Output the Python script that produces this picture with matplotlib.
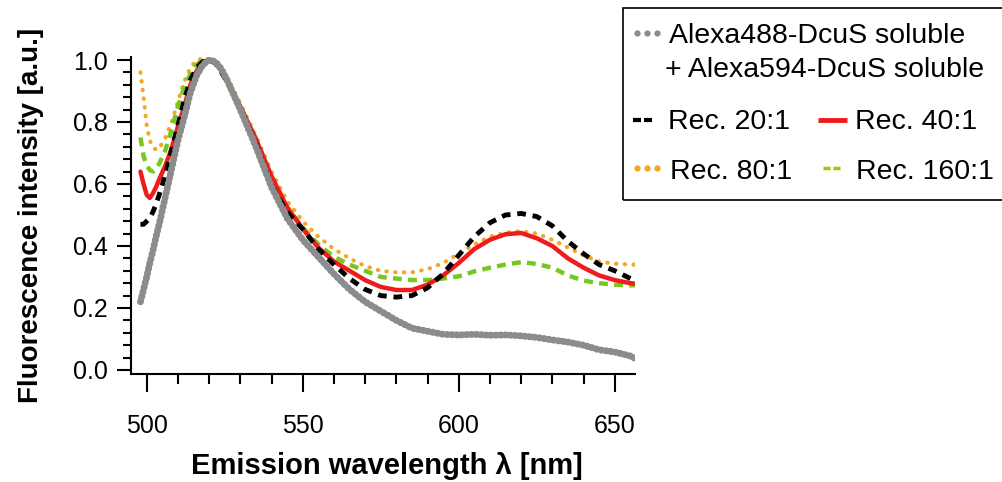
import matplotlib
matplotlib.use("Agg")
import matplotlib.pyplot as plt
from matplotlib.lines import Line2D
from matplotlib.patches import Rectangle
from matplotlib.ticker import MultipleLocator

plt.rcParams['font.family'] = ['Liberation Sans', 'DejaVu Sans']

# emission wavelength grid (nm)
wavelength = [498, 499, 500, 501, 502, 503, 504, 506, 508, 510, 512, 514, 516, 518,
              520, 522, 524, 526, 528, 530, 535, 540, 545, 550, 555, 560, 565, 570,
              575, 580, 585, 590, 595, 600, 605, 610, 615, 620, 625, 630, 635, 640,
              645, 650, 655, 657]

# normalised fluorescence intensity [a.u.]
soluble = [0.22, 0.26, 0.30, 0.345, 0.385, 0.43, 0.47, 0.56, 0.65, 0.74, 0.815, 0.895,
           0.95, 0.985, 1.0, 0.995, 0.97, 0.93, 0.885, 0.84, 0.72, 0.59, 0.49, 0.42,
           0.365, 0.31, 0.26, 0.22, 0.19, 0.16, 0.135, 0.125, 0.115, 0.113, 0.115,
           0.112, 0.113, 0.11, 0.105, 0.097, 0.09, 0.08, 0.065, 0.058, 0.045, 0.035]
rec_20 = [0.47, 0.47, 0.48, 0.49, 0.51, 0.535, 0.565, 0.63, 0.71, 0.79, 0.87, 0.935,
          0.975, 0.995, 1.0, 0.99, 0.96, 0.925, 0.885, 0.845, 0.73, 0.595, 0.51, 0.455,
          0.39, 0.34, 0.295, 0.26, 0.24, 0.235, 0.24, 0.265, 0.31, 0.37, 0.43, 0.475,
          0.5, 0.505, 0.495, 0.465, 0.415, 0.375, 0.34, 0.32, 0.295, 0.285]
rec_40 = [0.64, 0.6, 0.565, 0.555, 0.57, 0.59, 0.615, 0.66, 0.715, 0.785, 0.85, 0.92,
          0.965, 0.995, 1.0, 0.99, 0.965, 0.93, 0.89, 0.85, 0.745, 0.625, 0.525, 0.455,
          0.395, 0.35, 0.32, 0.29, 0.268, 0.258, 0.258, 0.275, 0.305, 0.345, 0.39, 0.42,
          0.438, 0.442, 0.425, 0.4, 0.36, 0.33, 0.305, 0.29, 0.28, 0.278]
rec_80 = [0.96, 0.88, 0.79, 0.74, 0.72, 0.71, 0.715, 0.75, 0.8, 0.865, 0.93, 0.975,
          1.0, 1.005, 1.0, 0.99, 0.97, 0.94, 0.9, 0.86, 0.755, 0.64, 0.545, 0.48,
          0.43, 0.39, 0.36, 0.335, 0.32, 0.315, 0.315, 0.325, 0.345, 0.375, 0.405, 0.43,
          0.443, 0.448, 0.44, 0.42, 0.395, 0.37, 0.35, 0.343, 0.34, 0.34]
rec_160 = [0.75, 0.69, 0.66, 0.645, 0.64, 0.65, 0.665, 0.71, 0.775, 0.85, 0.91, 0.955,
           0.985, 1.0, 1.0, 0.99, 0.965, 0.93, 0.89, 0.85, 0.745, 0.625, 0.525, 0.46,
           0.405, 0.365, 0.34, 0.32, 0.3, 0.295, 0.29, 0.29, 0.295, 0.302, 0.318, 0.33,
           0.34, 0.348, 0.342, 0.33, 0.305, 0.288, 0.28, 0.275, 0.273, 0.273]

GRAY = '#8c8c8c'
RED = '#ee1c1c'
ORANGE = '#f5a623'
GREEN = '#77c81e'
GREEN_LEG = '#99cc00'

W, H = 1003, 482
fig = plt.figure(figsize=(W / 100, H / 100), dpi=100)


def fx(px):
    return px / W


def fy(py):
    return 1 - py / H


ax = fig.add_axes([fx(131), fy(374), (635 - 131) / W, (374 - 57) / H])

ax.plot(wavelength, rec_80, color=ORANGE, lw=3, linestyle=(0, (0.1, 2.0)),
        dash_capstyle='round', zorder=2)
ax.plot(wavelength, rec_160, color=GREEN, lw=3.2, linestyle=(0, (2.0, 1.4)),
        zorder=3)
ax.plot(wavelength, rec_40, color=RED, lw=3.2, solid_capstyle='round', zorder=4)
ax.plot(wavelength, rec_20, color='black', lw=3.5, linestyle=(0, (1.8, 1.4)),
        zorder=5)
ax.plot(wavelength, soluble, color=GRAY, lw=5, linestyle=(0, (0.1, 0.6)),
        dash_capstyle='round', zorder=6)

ax.set_xlim(494.97, 656.5)
ax.set_ylim(-0.013, 1.0097)

for side in ('top', 'right'):
    ax.spines[side].set_visible(False)
for side in ('left', 'bottom'):
    ax.spines[side].set_linewidth(1.5)

ax.xaxis.set_major_locator(MultipleLocator(50))
ax.xaxis.set_minor_locator(MultipleLocator(10))
ax.yaxis.set_major_locator(MultipleLocator(0.2))
ax.yaxis.set_minor_locator(MultipleLocator(0.04))
ax.yaxis.set_major_formatter(plt.FuncFormatter(lambda v, p: f"{v:.1f}"))

ax.tick_params(axis='x', which='major', direction='out', length=13, width=1.5,
               labelsize=18, pad=16)
ax.tick_params(axis='x', which='minor', direction='out', length=7, width=1.5)
ax.tick_params(axis='y', which='major', direction='out', length=10, width=1.5,
               labelsize=18, pad=7)
ax.tick_params(axis='y', which='minor', direction='out', length=6, width=1.5)

fig.text(fx(387), fy(466), 'Emission wavelength λ [nm]', ha='center', va='center',
         fontsize=21, fontweight='bold')
fig.text(fx(31), fy(215), 'Fluorescence intensity [a.u.]', ha='center', va='center',
         rotation=90, fontsize=20, fontweight='bold')

# legend box (custom layout)
fig.patches.append(Rectangle((fx(623), fy(200)), 390 / W, 192 / H,
                             transform=fig.transFigure, fill=False,
                             ec='black', lw=1.2))

def leg_dots(x0, y, color):
    xs = [fx(x0), fx(x0 + 10), fx(x0 + 20)]
    fig.lines.append(Line2D(xs, [fy(y)] * 3, transform=fig.transFigure, ls='none',
                            marker='o', ms=4.5, mec='none', mfc=color))

def leg_seg(x0, x1, y, color, lw):
    fig.lines.append(Line2D([fx(x0), fx(x1)], [fy(y), fy(y)],
                            transform=fig.transFigure, color=color, lw=lw,
                            solid_capstyle='butt'))

leg_size = 20.5
leg_dots(637, 33, GRAY)
fig.text(fx(669), fy(43), 'Alexa488-DcuS soluble', fontsize=leg_size, va='baseline')
fig.text(fx(665), fy(77), '+ Alexa594-DcuS soluble', fontsize=leg_size, va='baseline')

leg_seg(633, 641, 120, 'black', 3)
leg_seg(644, 652, 120, 'black', 3)
fig.text(fx(668), fy(129), 'Rec. 20:1', fontsize=leg_size, va='baseline')
leg_seg(818, 847, 120, RED, 3.5)
fig.text(fx(855), fy(129), 'Rec. 40:1', fontsize=leg_size, va='baseline')

leg_dots(637, 168, ORANGE)
fig.text(fx(670), fy(179), 'Rec. 80:1', fontsize=leg_size, va='baseline')
leg_seg(823, 830, 168, GREEN_LEG, 2.5)
leg_seg(833, 840, 168, GREEN_LEG, 2.5)
fig.text(fx(856), fy(179), 'Rec. 160:1', fontsize=leg_size, va='baseline')

fig.savefig('out.png', dpi=100)
